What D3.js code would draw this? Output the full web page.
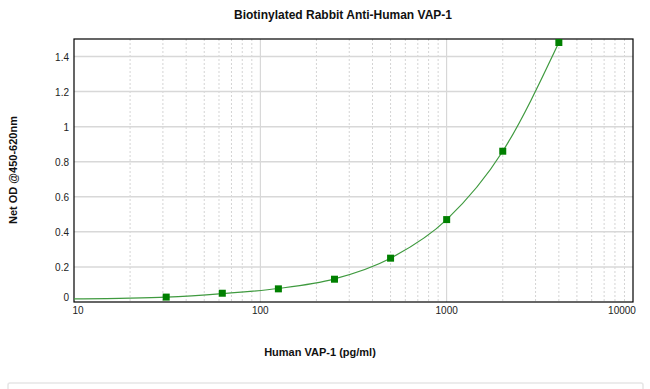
<!DOCTYPE html>
<html>
<head>
<meta charset="utf-8">
<script src="https://cdn.jsdelivr.net/npm/d3@7"></script>
<style>
  body { margin: 0; background: #fff; }
  text { font-family: Arial, "Liberation Sans", sans-serif; }
</style>
</head>
<body>
<div id="main"></div>
<script>
// standard curve readings
const concentrations = [31.25, 62.5, 125, 250, 500, 1000, 2000, 4000];
const odValues = [0.028, 0.05, 0.075, 0.13, 0.25, 0.47, 0.86, 1.48];

// fitted curve
const fitX = [10, 20, 31.25, 62.5, 125, 250, 500, 1000, 2000, 4000];
const fitY = [0.018, 0.022, 0.028, 0.048, 0.077, 0.132, 0.25, 0.47, 0.86, 1.48];

const yTicks = [0, 0.2, 0.4, 0.6, 0.8, 1, 1.2, 1.4];
const xTicks = [10, 100, 1000, 10000];

const width = 650, height = 389;
const margin = { left: 74, right: 17, top: 39, bottom: 87 };

const svg = d3.select('#main')
  .append('svg')
  .attr('width', width)
  .attr('height', height);

const x = d3.scaleLog()
  .domain([10, 10000])
  .range([margin.left, width - margin.right]);

const y = d3.scaleLinear()
  .domain([0, 1.5])
  .range([height - margin.bottom, margin.top]);

// minor vertical grid (2..9 of each decade)
const minor = [];
[10, 100, 1000].forEach((d) => {
  for (let k = 2; k <= 9; k++) minor.push(d * k);
});

svg.append('g')
  .selectAll('line')
  .data(minor)
  .enter().append('line')
  .attr('x1', (d) => x(d)).attr('x2', (d) => x(d))
  .attr('y1', y(1.5)).attr('y2', y(0))
  .attr('stroke', '#d4d4d4')
  .attr('stroke-dasharray', '2,2');

svg.append('g')
  .selectAll('line')
  .data([100, 1000])
  .enter().append('line')
  .attr('x1', (d) => x(d)).attr('x2', (d) => x(d))
  .attr('y1', y(1.5)).attr('y2', y(0))
  .attr('stroke', '#d0d0d0');

svg.append('g')
  .selectAll('line')
  .data(yTicks.filter((d) => d > 0))
  .enter().append('line')
  .attr('x1', x(10)).attr('x2', x(10000))
  .attr('y1', (d) => y(d)).attr('y2', (d) => y(d))
  .attr('stroke', '#d8d8d8')
  .attr('stroke-width', 1.5);

// frame
svg.append('rect')
  .attr('x', x(10)).attr('y', y(1.5))
  .attr('width', x(10000) - x(10))
  .attr('height', y(0) - y(1.5))
  .attr('fill', 'none')
  .attr('stroke', '#000')
  .attr('stroke-width', 1.2);

// y labels
svg.append('g')
  .selectAll('text')
  .data(yTicks)
  .enter().append('text')
  .attr('x', margin.left - 5)
  .attr('y', (d) => d === 0 ? y(d) - 1 : y(d) + 4)
  .attr('text-anchor', 'end')
  .attr('font-size', '10px')
  .attr('fill', '#222')
  .text((d) => d);

// x labels
svg.append('g')
  .selectAll('text')
  .data(xTicks)
  .enter().append('text')
  .attr('x', (d) => d === 10 ? x(d) + 4 : d === 10000 ? x(d) - 11 : x(d))
  .attr('y', y(0) + 12)
  .attr('text-anchor', 'middle')
  .attr('font-size', '10px')
  .attr('fill', '#222')
  .text((d) => d);

// fitted line
const line = d3.line()
  .x((d, i) => x(fitX[i]))
  .y((d) => y(d))
  .curve(d3.curveMonotoneX);

svg.append('path')
  .attr('d', line(fitY))
  .attr('fill', 'none')
  .attr('stroke', '#3f9a3f')
  .attr('stroke-width', 1.2);

// points
svg.append('g')
  .selectAll('rect')
  .data(concentrations)
  .enter().append('rect')
  .attr('x', (d) => x(d) - 3.5)
  .attr('y', (d, i) => y(odValues[i]) - 3.5)
  .attr('width', 7)
  .attr('height', 7)
  .attr('fill', '#008000');

// titles
svg.append('text')
  .attr('x', 343).attr('y', 19)
  .attr('text-anchor', 'middle')
  .attr('font-size', '12px')
  .attr('font-weight', 'bold')
  .attr('fill', '#111')
  .text('Biotinylated Rabbit Anti-Human VAP-1');

svg.append('text')
  .attr('x', 320).attr('y', 356)
  .attr('text-anchor', 'middle')
  .attr('font-size', '11px')
  .attr('font-weight', 'bold')
  .attr('fill', '#111')
  .text('Human VAP-1 (pg/ml)');

svg.append('text')
  .attr('transform', 'translate(17,170) rotate(-90)')
  .attr('text-anchor', 'middle')
  .attr('font-size', '11px')
  .attr('font-weight', 'bold')
  .attr('fill', '#111')
  .text('Net OD @450-620nm');

// light box below
svg.append('rect')
  .attr('x', 8).attr('y', 383)
  .attr('width', 635).attr('height', 20)
  .attr('rx', 2)
  .attr('fill', 'none')
  .attr('stroke', '#e6e6e6')
  .attr('stroke-width', 1.5);
</script>
</body>
</html>
